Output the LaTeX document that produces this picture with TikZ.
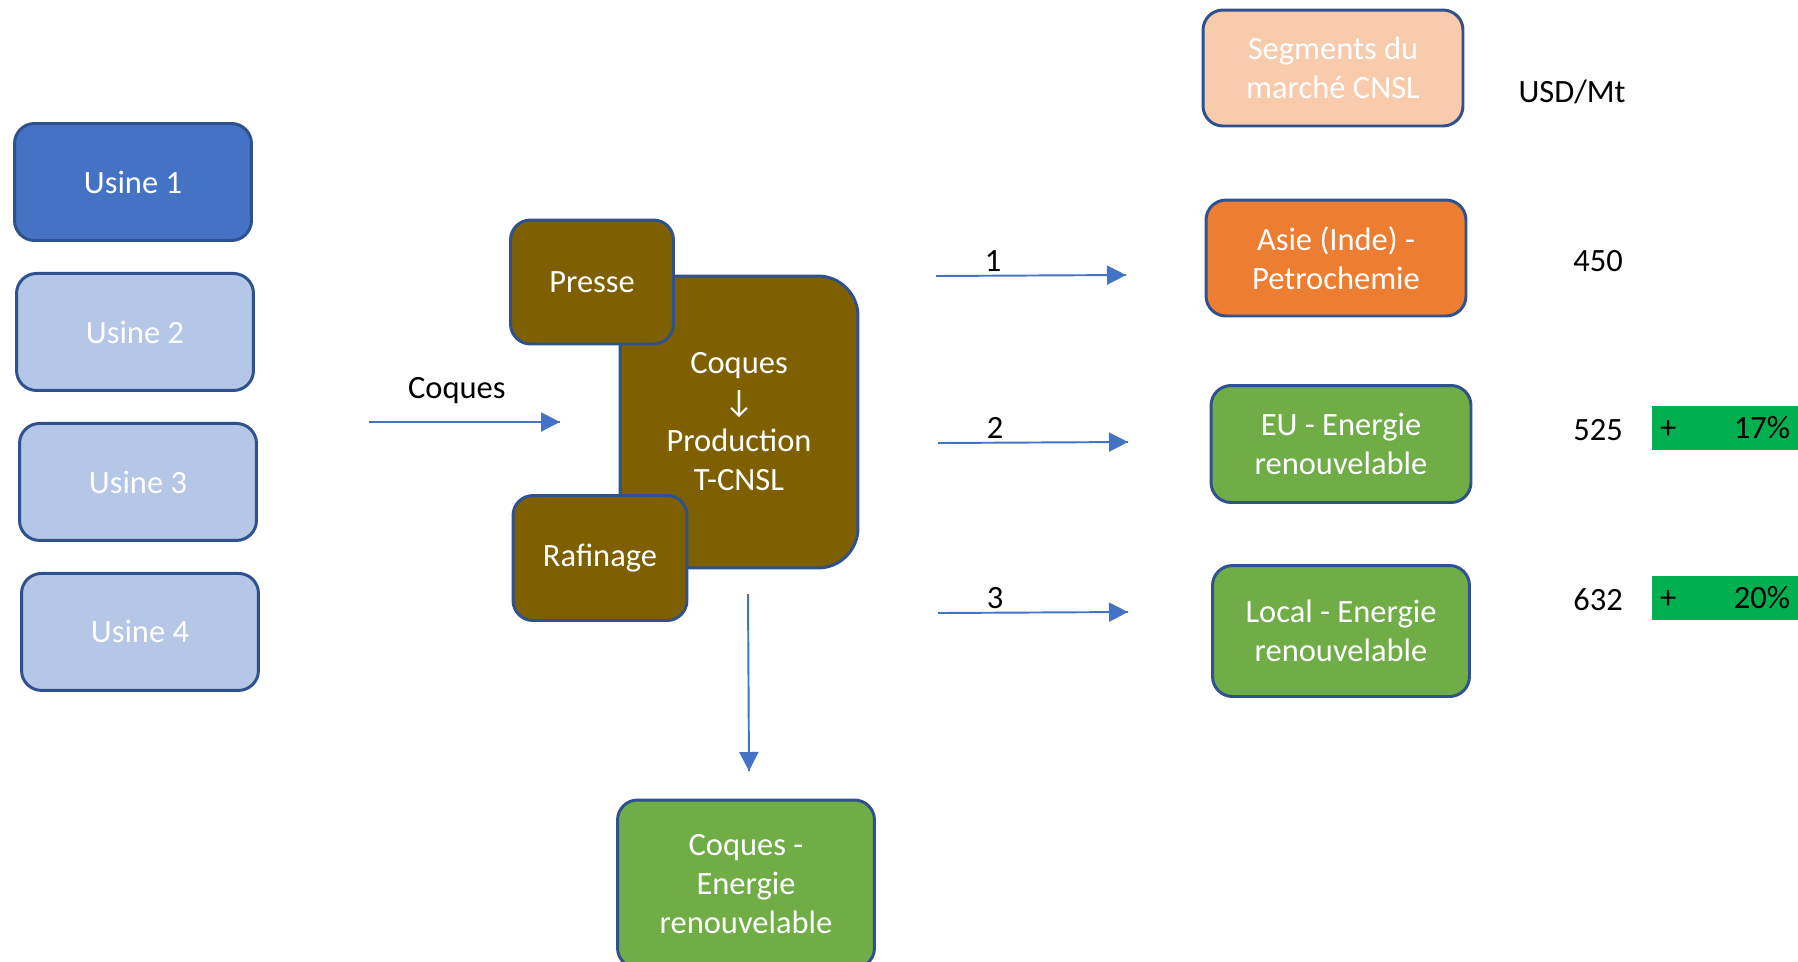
\documentclass[tikz,border=0pt]{standalone}
\usepackage{fontspec}
\setmainfont{Carlito}
\usetikzlibrary{decorations.markings,arrows.meta}

\definecolor{usinedark}{HTML}{4472C4}
\definecolor{usinelight}{HTML}{B4C7E7}
\definecolor{boxline}{HTML}{2F528F}
\definecolor{brownbox}{HTML}{7F6000}
\definecolor{orangebox}{HTML}{ED7D31}
\definecolor{greenbox}{HTML}{70AD47}
\definecolor{peachbox}{HTML}{F8CBAD}
\definecolor{pctgreen}{HTML}{00B050}
\definecolor{flowblue}{HTML}{4472C4}

\tikzset{
  box/.style={draw=boxline, line width=1.7pt, rounded corners=0.4cm, text=white, align=center},
  usine/.style={box, fill=usinelight, minimum width=4.74cm, minimum height=2.34cm},
  segment/.style={box, minimum width=5.2cm, minimum height=2.32cm},
  atelier/.style={box, fill=brownbox},
  pct/.style={fill=pctgreen, text width=2.6cm, inner xsep=0.16cm, inner ysep=0pt, minimum height=0.88cm, align=left},
  flow/.style={flowblue, draw, line width=1.1pt, decoration={markings,mark=at position 1 with {\arrow{Triangle[length=0.38cm,width=0.38cm]}}}, postaction={decorate}},
}

\begin{document}
\begin{tikzpicture}[x=0.02cm, y=-0.02cm, node distance=3cm,
  every node/.style={font=\fontsize{18.5}{22.2}\selectfont}]
\useasboundingbox (0,0) rectangle (1798,961);
% usines
\node[usine, fill=usinedark] (u1) at (133,182) {Usine 1};
\node[usine] (u2) [below of = u1, xshift=0.04cm] {Usine 2};
\node[usine] (u3) [below of = u2, xshift=0.06cm] {Usine 3};
\node[usine] (u4) [below of = u3, xshift=0.04cm] {Usine 4};
% production
\node[atelier, rounded corners=0.8cm, minimum width=4.76cm, minimum height=5.84cm] (prod) at (739,422) {Coques\\↓\\Production\\T-CNSL};
\node[atelier, minimum width=3.26cm, minimum height=2.48cm] (presse) at (592,282) {Presse};
\node[atelier, minimum width=3.48cm, minimum height=2.5cm] (raf) at (600,558) {Rafinage};
\node[box, fill=greenbox, minimum width=5.14cm, minimum height=3.36cm] (coqen) at (746,884) {Coques -\\Energie\\renouvelable};
% segments
\node[segment, fill=peachbox] (seg) at (1333,68) {Segments du\\march\'e CNSL};
\node[segment, fill=orangebox] (asie) at (1336,258) {Asie (Inde) -\\Petrochemie};
\node[segment, fill=greenbox, minimum height=2.34cm] (eu) at (1341,444) {EU - Energie\\renouvelable};
\node[segment, fill=greenbox, minimum width=5.14cm, minimum height=2.62cm] (local) at (1341,631) {Local - Energie\\renouvelable};
% prix
\node (unit) at (1572,92) {USD/Mt};
\node (p1) at (1598,261) {450};
\node (p2) at (1598,430) {525};
\node (p3) at (1598,600) {632};
\node[pct] (g2) at (1725,428) {+\hfill 17\%};
\node[pct] (g3) at (1725,598) {+\hfill 20\%};
% fleches
\coordinate (cin) at (369,422);
\coordinate (cout) at (560,422);
\coordinate (dstart) at (748,594);
\coordinate (dend) at (749,771);
\coordinate (a1s) at (936,276);
\coordinate (a1e) at (1126,275);
\coordinate (a2s) at (938,443);
\coordinate (a2e) at (1128,442);
\coordinate (a3s) at (938,613);
\coordinate (a3e) at (1128,612);
\draw[flow] (cin) -- node[pos=0.46, above=6.7pt, black] (lcoq) {Coques} (cout);
\draw[flow] (dstart) -- (dend);
\draw[flow] (a1s) -- node[pos=0.3, above=2pt, inner sep=0pt, black] (l1) {1} (a1e);
\draw[flow] (a2s) -- node[pos=0.3, above=2pt, inner sep=0pt, black] (l2) {2} (a2e);
\draw[flow] (a3s) -- node[pos=0.3, above=2pt, inner sep=0pt, black] (l3) {3} (a3e);
\end{tikzpicture}
\end{document}
